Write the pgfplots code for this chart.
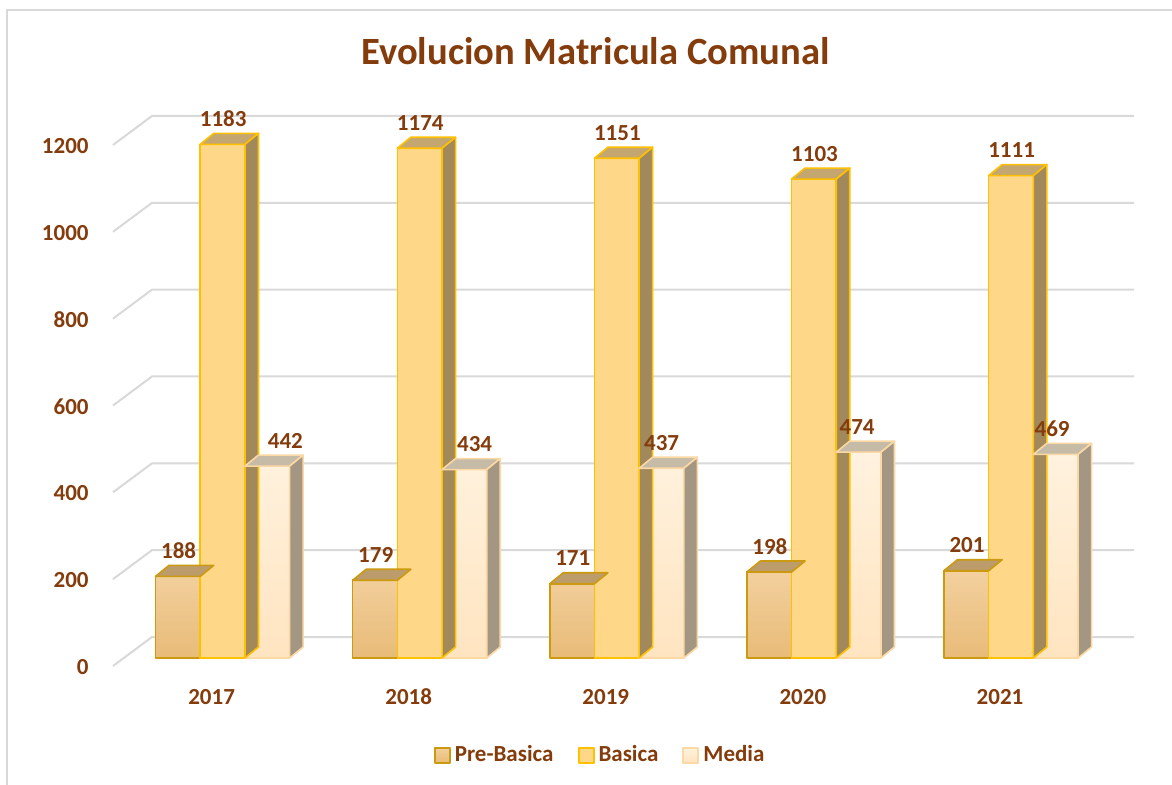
\documentclass[border=0pt]{standalone}
\usepackage{pgfplots}
\pgfplotsset{compat=1.18}
\usepackage{pgfplotstable}
\usepackage{fontspec}
\setmainfont{Carlito}

\definecolor{brownT}{HTML}{843C0C}
\definecolor{gridG}{HTML}{D9D9D9}
\definecolor{preT}{HTML}{F3D09E}
\definecolor{preB}{HTML}{E8BB78}
\definecolor{preE}{HTML}{CC9A10}
\definecolor{preTop}{HTML}{BC9C6A}
\definecolor{basF}{HTML}{FED888}
\definecolor{basE}{HTML}{FFC000}
\definecolor{basTop}{HTML}{C4A670}
\definecolor{basSide}{HTML}{A2895C}
\definecolor{medT}{HTML}{FFF2DF}
\definecolor{medB}{HTML}{FFE4C0}
\definecolor{medE}{HTML}{FBD8A4}
\definecolor{medTop}{HTML}{C6BBA6}
\definecolor{medSide}{HTML}{A39683}

% mlab: horizontal position (pt) of the Media data label from the group centre
\pgfplotstableread{
x pre bas med mlab
0 188 1183 442 31.4
1 179 1174 434 27.45
2 171 1151 437 22.4
3 198 1103 474 21.6
4 201 1111 469 20.55
}\datatable

% 3D faces drawn at each bar top (origin = front top centre of bar)
\pgfdeclareplotmark{topface}{%
  \pgfpathmoveto{\pgfqpoint{-11.18pt}{0pt}}%
  \pgfpathlineto{\pgfqpoint{11.18pt}{0pt}}%
  \pgfpathlineto{\pgfqpoint{17.93pt}{5.5pt}}%
  \pgfpathlineto{\pgfqpoint{-4.43pt}{5.5pt}}%
  \pgfpathclose
  \pgfusepathqfillstroke}
\pgfdeclareplotmark{sideface}{%
  \pgfpathmoveto{\pgfqpoint{11.18pt}{0pt}}%
  \pgfpathlineto{\pgfqpoint{17.93pt}{5.5pt}}%
  \pgfpathlineto{\pgfpoint{17.93pt}{5.5pt-\barval*0.2171pt}}%
  \pgfpathlineto{\pgfpoint{11.18pt}{-\barval*0.2171pt}}%
  \pgfpathclose
  \pgfusepathqfillstroke}

\tikzset{lblfont/.style={font=\bfseries\fontsize{11.5}{13}\selectfont, text=brownT}}
\pgfplotsset{
  sqlegend/.style={legend image code/.code={\draw[##1,line width=1pt] (0pt,-3.75pt) rectangle (7.5pt,3.75pt);}},
  front/.style={ybar, bar width=0.2268, line width=0.8pt, line join=round, sqlegend,
    nodes near coords, every node near coord/.append style={anchor=base, yshift=9pt, inner sep=0pt, lblfont}},
  face/.style n args={3}{forget plot, scatter, only marks, mark=#1, point meta=y,
    visualization depends on={rawy \as \barval},
    scatter/@pre marker code/.code={\scope[fill=#2,draw=#3,line width=0.8pt,line join=round,solid]},
    scatter/@post marker code/.code={\endscope}},
}

\begin{document}
\begin{tikzpicture}
\useasboundingbox (0,0) rectangle (586pt,-392.5pt);
\fill[white] (0,0) rectangle (586pt,-392.5pt);
\draw[gridG, line width=1pt] (3.5pt,-392.5pt) -- (3.5pt,-5pt) -- (586pt,-5pt);
\node[anchor=base, font=\bfseries\fontsize{19.3}{23}\selectfont, text=brownT] at (297.75pt,-32.5pt) {Evolucion Matricula Comunal};
\begin{axis}[
  at={(56.5pt,-329pt)}, anchor=south west,
  x=98.55pt, y=0.2171pt,
  xmin=-0.556, xmax=4.427, ymin=0, ymax=1300,
  clip=false,
  axis line style={draw=none},
  major tick style={draw=none},
  xtick={0,1,2,3,4},
  xticklabels={2017,2018,2019,2020,2021},
  ytick={0,200,400,600,800,1000,1200},
  /pgf/number format/assume math mode=true,
  /pgf/number format/1000 sep={},
  tick label style={lblfont},
  yticklabel style={anchor=east, inner sep=0pt, xshift=-12pt, yshift=-4.5pt},
  xticklabel style={anchor=base, inner sep=0pt, xshift=-5.5pt, yshift=-23pt},
  legend style={at={(axis description cs:0.497,-0.172)}, anchor=center,
    draw=none, fill=none, legend columns=-1, lblfont,
    /tikz/every even column/.append style={column sep=10pt}},
]
\pgfplotsinvokeforeach{0,200,400,600,800,1000,1200}{
  \draw[gridG, line width=1pt] ([yshift=-4pt]axis cs:-0.556,#1) -- ([shift={(19.5pt,10.5pt)}]axis cs:-0.556,#1) -- ([shift={(19.5pt,10.5pt)}]axis cs:4.427,#1);
}
% Pre-Basica
\addplot[front, bar shift=-0.2268, draw=preE, top color=preT, bottom color=preB,
  every node near coord/.append style={xshift=-22pt}] table[x=x,y=pre]{\datatable};
\addlegendentry{Pre-Basica}
\addplot[face={topface}{preTop}{preE}] table[x expr=\thisrow{x}-0.2268, y=pre]{\datatable};
% Basica
\addplot[front, bar shift=0, draw=basE, fill=basF,
  every node near coord/.append style={xshift=0.3pt}] table[x=x,y=bas]{\datatable};
\addlegendentry{Basica}
\addplot[face={topface}{basTop}{basE}] table[x=x, y=bas]{\datatable};
\addplot[face={sideface}{basSide}{basE}] table[x=x, y=bas]{\datatable};
% Media
\addplot[front, bar shift=0.2268, draw=medE, top color=medT, bottom color=medB,
  visualization depends on={\thisrow{mlab} \as \mlab},
  every node near coord/.append style={xshift=\mlab pt}] table[x=x,y=med]{\datatable};
\addlegendentry{Media}
\addplot[face={topface}{medTop}{medE}] table[x expr=\thisrow{x}+0.2268, y=med]{\datatable};
\addplot[face={sideface}{medSide}{medE}] table[x expr=\thisrow{x}+0.2268, y=med]{\datatable};
\end{axis}
\end{tikzpicture}
\end{document}
